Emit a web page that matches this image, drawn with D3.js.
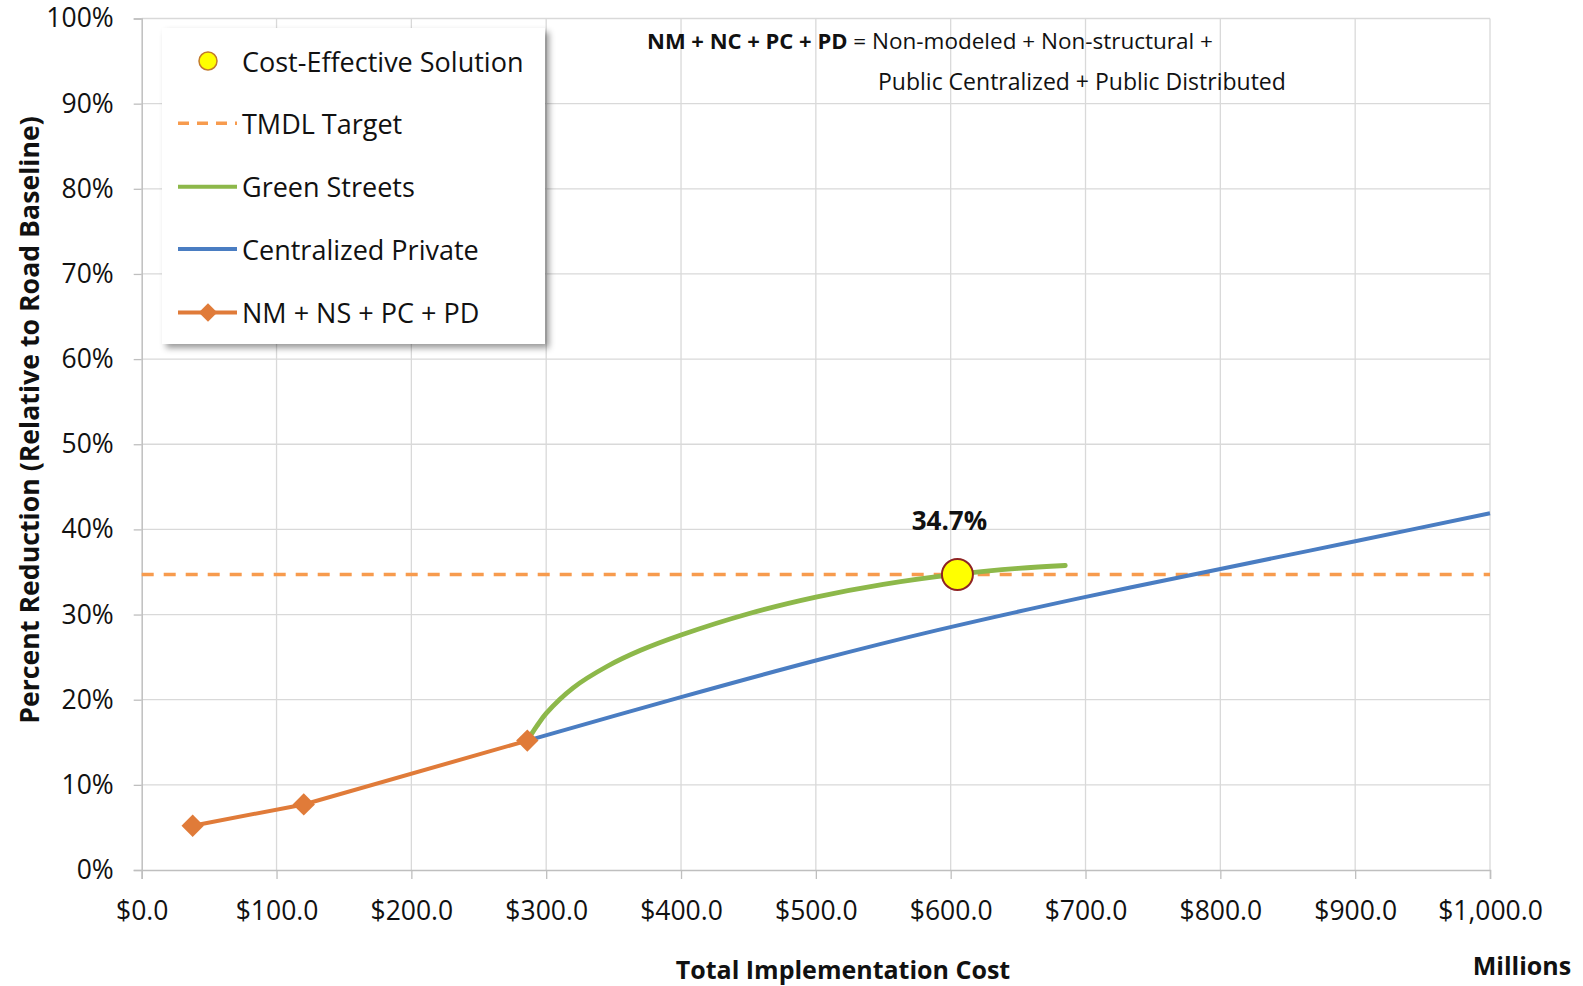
<!DOCTYPE html>
<html><head><meta charset="utf-8">
<script src="https://cdn.jsdelivr.net/npm/d3@7"></script>
<style>
html,body{margin:0;padding:0;background:#fff;}
svg{display:block;font-family:"Open Sans",sans-serif;}
</style></head><body>
<svg id="chart" width="1583" height="986"></svg>
<script>
// ---- data (costs in $ millions, reductions in %) ----
const xTickValues = [0, 100, 200, 300, 400, 500, 600, 700, 800, 900, 1000];
const yTickValues = [0, 10, 20, 30, 40, 50, 60, 70, 80, 90, 100];

const nmCost = [37.8, 120.2, 286];
const nmPct  = [5.2, 7.7, 15.2];

const greenCost = [286, 293, 300, 320, 345, 370, 400, 450, 500, 550, 605, 650, 685];
const greenPct  = [15.2, 16.9, 18.4, 21.4, 23.9, 25.8, 27.6, 30.1, 32.05, 33.55, 34.75, 35.43, 35.76];

const blueCost = [286, 400, 500, 591, 695, 800, 900, 1000];
const bluePct  = [15.2, 20.3, 24.6, 28.2, 31.9, 35.35, 38.6, 41.9];

const solutionCost = [605];
const solutionPct  = [34.7];
const solutionLabel = ["34.7%"];

const tmdlTarget = [34.7];

const legendLabels = ["Cost-Effective Solution", "TMDL Target", "Green Streets", "Centralized Private", "NM + NS + PC + PD"];

// ---- layout ----
const svg = d3.select("#chart");
const L = 141.7, R = 1490, T = 18.5, B = 870;
const x = d3.scaleLinear().domain([0, 1000]).range([L, R]);
const y = d3.scaleLinear().domain([0, 100]).range([B, T]);

const C = {
  grid: "#d9d9d9", axis: "#bfbfbf", text: "#111",
  orange: "#E07B39", tmdl: "#F79B4E", green: "#8DB84A", blue: "#4A7DC2",
  yellow: "#FFFF00", solStroke: "#8E2424"
};

// gridlines
const g0 = svg.append("g");
g0.selectAll("line.v").data(xTickValues.filter(d => d > 0)).join("line")
  .attr("x1", d => x(d)).attr("x2", d => x(d)).attr("y1", T).attr("y2", B)
  .attr("stroke", C.grid).attr("stroke-width", 1.3);
g0.selectAll("line.h").data(yTickValues.filter(d => d > 0)).join("line")
  .attr("x1", L).attr("x2", R).attr("y1", d => y(d)).attr("y2", d => y(d))
  .attr("stroke", C.grid).attr("stroke-width", 1.3);

// axes
const yAxis = d3.axisLeft(y).tickValues(yTickValues).tickFormat(d => d + "%").tickSize(8).tickPadding(20);
const gy = svg.append("g").attr("transform", `translate(${L},0)`).call(yAxis);
gy.select(".domain").attr("stroke", C.axis).attr("stroke-width", 1.5);
gy.selectAll(".tick line").attr("stroke", C.axis).attr("stroke-width", 1.3);
gy.selectAll(".tick text").attr("fill", C.text).attr("font-size", 26.5).attr("font-family", "Open Sans");

const xAxis = d3.axisBottom(x).tickValues(xTickValues).tickFormat(d3.format("$,.1f")).tickSize(9).tickPadding(22);
const gx = svg.append("g").attr("transform", `translate(0,${B})`).call(xAxis);
gx.select(".domain").attr("stroke", C.axis).attr("stroke-width", 1.5);
gx.selectAll(".tick line").attr("stroke", C.axis).attr("stroke-width", 1.3);
gx.selectAll(".tick text").attr("fill", C.text).attr("font-size", 26.5).attr("font-family", "Open Sans");

// axis titles
svg.append("text").attr("transform", `translate(28,${420}) rotate(-90)`)
  .attr("text-anchor", "middle").attr("dominant-baseline", "central")
  .attr("font-size", 26.7).attr("font-weight", 700).attr("fill", C.text)
  .text("Percent Reduction (Relative to Road Baseline)");
svg.append("text").attr("x", 843).attr("y", 969)
  .attr("text-anchor", "middle").attr("dominant-baseline", "central")
  .attr("font-size", 25).attr("font-weight", 700).attr("fill", C.text)
  .text("Total Implementation Cost");
svg.append("text").attr("x", 1522).attr("y", 965)
  .attr("text-anchor", "middle").attr("dominant-baseline", "central")
  .attr("font-size", 25).attr("font-weight", 700).attr("fill", C.text)
  .text("Millions");

// series
const plot = svg.append("g");
plot.append("line").datum(tmdlTarget[0])
  .attr("x1", L).attr("x2", R).attr("y1", d => y(d)).attr("y2", d => y(d))
  .attr("stroke", C.tmdl).attr("stroke-width", 3.5).attr("stroke-dasharray", "12,10");

const zip = (a, b) => a.map((v, i) => [v, b[i]]);
const lineGen = d3.line().x(d => x(d[0])).y(d => y(d[1]));
const smoothGen = d3.line().x(d => x(d[0])).y(d => y(d[1])).curve(d3.curveCatmullRom.alpha(0.5));

plot.append("path").datum(zip(blueCost, bluePct)).attr("d", smoothGen)
  .attr("fill", "none").attr("stroke", C.blue).attr("stroke-width", 4);
plot.append("path").datum(zip(greenCost, greenPct)).attr("d", smoothGen)
  .attr("fill", "none").attr("stroke", C.green).attr("stroke-width", 4.8).attr("stroke-linecap", "round");
plot.append("path").datum(zip(nmCost, nmPct)).attr("d", lineGen)
  .attr("fill", "none").attr("stroke", C.orange).attr("stroke-width", 4);

const diamond = d3.symbol(d3.symbolSquare, 250);
plot.selectAll("path.dia").data(zip(nmCost, nmPct)).join("path")
  .attr("d", diamond)
  .attr("transform", d => `translate(${x(d[0])},${y(d[1])}) rotate(45)`)
  .attr("fill", C.orange);

plot.selectAll("circle.sol").data(zip(solutionCost, solutionPct)).join("circle")
  .attr("cx", d => x(d[0])).attr("cy", d => y(d[1])).attr("r", 15.5)
  .attr("fill", C.yellow).attr("stroke", C.solStroke).attr("stroke-width", 2);

plot.selectAll("text.sol").data(zip(solutionCost, solutionPct)).join("text")
  .attr("x", d => x(d[0]) - 8).attr("y", d => y(d[1]) - 55)
  .attr("text-anchor", "middle").attr("dominant-baseline", "central")
  .attr("font-size", 26).attr("font-weight", 700).attr("fill", C.text)
  .text((d, i) => solutionLabel[i]);

// annotation
const ann = svg.append("text").attr("x", 647).attr("y", 40)
  .attr("dominant-baseline", "central").attr("font-size", 22.5).attr("fill", C.text);
ann.append("tspan").attr("font-weight", 700).attr("font-size", 22).text("NM + NC + PC + PD");
ann.append("tspan").text(" = Non-modeled + Non-structural +");
svg.append("text").attr("x", 878).attr("y", 81)
  .attr("dominant-baseline", "central").attr("font-size", 23).attr("fill", C.text)
  .text("Public Centralized + Public Distributed");

// legend
const defs = svg.append("defs");
const f = defs.append("filter").attr("id", "shadow").attr("x", "-10%").attr("y", "-10%").attr("width", "130%").attr("height", "130%");
f.append("feDropShadow").attr("dx", 4).attr("dy", 4).attr("stdDeviation", 3)
  .attr("flood-color", "#000").attr("flood-opacity", 0.4);

const lg = svg.append("g");
lg.append("rect").attr("x", 162).attr("y", 28).attr("width", 383).attr("height", 316)
  .attr("fill", "#fff").attr("filter", "url(#shadow)");
const rowY = [61, 123.3, 186.7, 249, 312.5];
const sx1 = 178, sx2 = 237, sxc = 208;
lg.append("circle").attr("cx", sxc).attr("cy", rowY[0]).attr("r", 9)
  .attr("fill", C.yellow).attr("stroke", "#C27A2C").attr("stroke-width", 1.5);
lg.append("line").attr("x1", sx1).attr("x2", sx2).attr("y1", rowY[1]).attr("y2", rowY[1])
  .attr("stroke", C.tmdl).attr("stroke-width", 3.5).attr("stroke-dasharray", "11,8");
lg.append("line").attr("x1", sx1).attr("x2", sx2).attr("y1", rowY[2]).attr("y2", rowY[2])
  .attr("stroke", C.green).attr("stroke-width", 4);
lg.append("line").attr("x1", sx1).attr("x2", sx2).attr("y1", rowY[3]).attr("y2", rowY[3])
  .attr("stroke", C.blue).attr("stroke-width", 4);
lg.append("line").attr("x1", sx1).attr("x2", sx2).attr("y1", rowY[4]).attr("y2", rowY[4])
  .attr("stroke", C.orange).attr("stroke-width", 4);
lg.append("path").attr("d", d3.symbol(d3.symbolSquare, 170))
  .attr("transform", `translate(${sxc},${rowY[4]}) rotate(45)`).attr("fill", C.orange);

lg.selectAll("text.lt").data(legendLabels).join("text")
  .attr("x", 242).attr("y", (d, i) => rowY[i])
  .attr("dominant-baseline", "central").attr("font-size", 27).attr("fill", C.text)
  .text(d => d);
</script>
</body></html>
